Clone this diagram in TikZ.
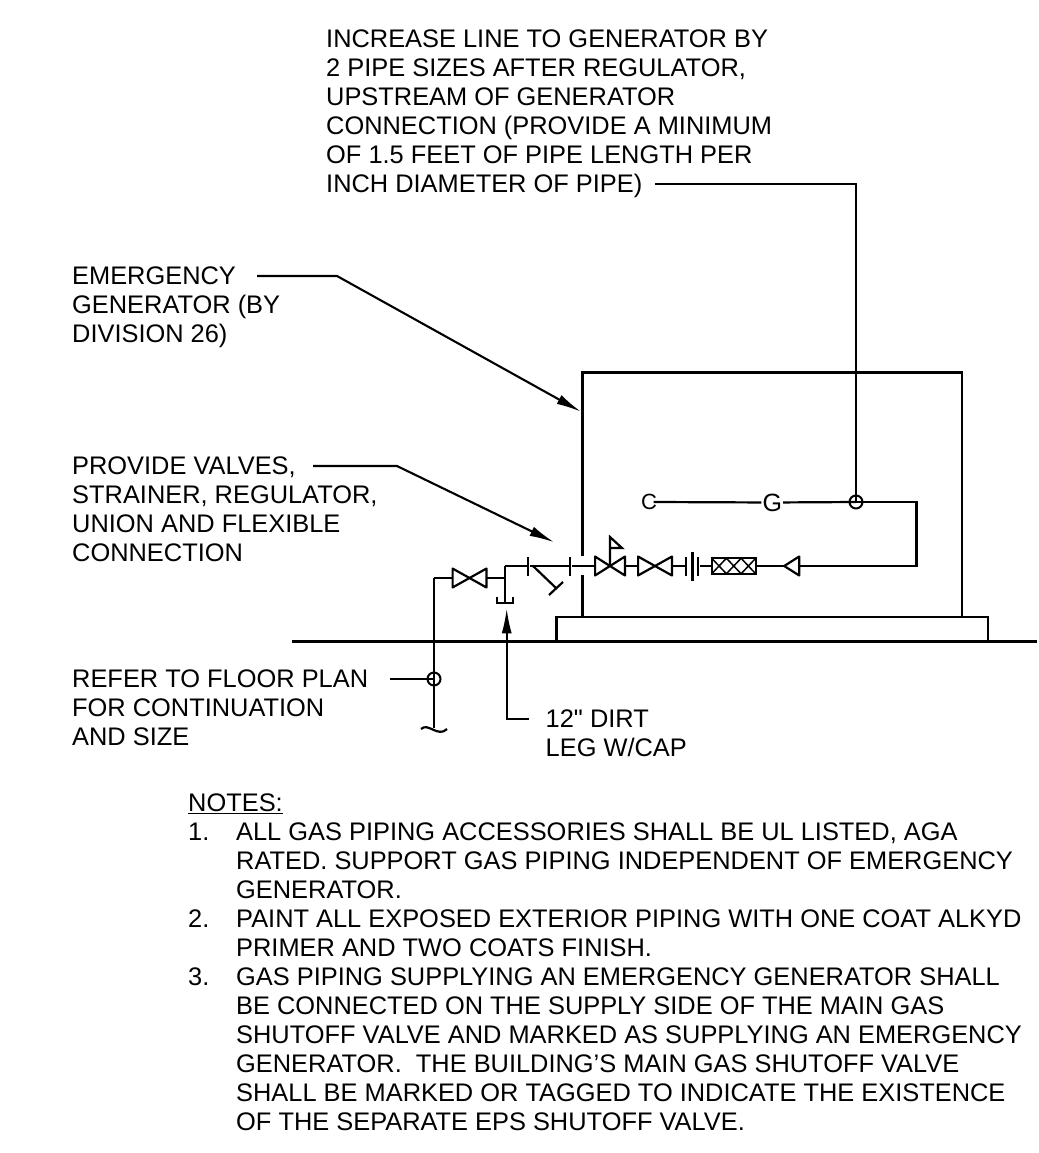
\documentclass[tikz,border=0pt]{standalone}
\usepackage{fontspec}
\setmainfont{Liberation Sans}[Ligatures=TeXOff]
\usetikzlibrary{arrows.meta}

\def\bb{path picture bounding box}
\tikzset{
    pipe/.style = {line width=2.2pt},
    leader/.style = {line width=2.1pt},
    pointer/.style = {leader,-{Latex[length=25pt,width=10pt]}},
    caption/.style = {anchor=north west,align=left,inner sep=0pt,font=\fontsize{25.4}{29}\selectfont},
    letter/.style = {inner sep=1pt,font=\fontsize{25}{25}\selectfont},
    tap/.style = {circle,draw,line width=2pt,minimum size=13pt,inner sep=0pt},
    valve/.style = {minimum width=36pt,minimum height=21pt,inner sep=0pt,outer sep=-1pt,path picture={
        \draw[pipe,line join=round] ([shift={(1pt,1pt)}]\bb.south west) -- ([shift={(1pt,-1pt)}]\bb.north west)
            -- ([shift={(-1pt,1pt)}]\bb.south east) -- ([shift={(-1pt,-1pt)}]\bb.north east)
            -- cycle;}},
    checkvalve/.style = {minimum width=18pt,minimum height=22pt,inner sep=0pt,outer sep=-1pt,path picture={
        \draw[pipe,line join=round] ([xshift=1.5pt]\bb.west) -- ([shift={(-1.5pt,-1.5pt)}]\bb.north east)
            -- ([shift={(-1.5pt,1.5pt)}]\bb.south east) -- cycle;}},
    flange/.style = {minimum width=3pt,minimum height=19pt,inner sep=0pt,outer sep=0pt,path picture={
        \draw[pipe] (\bb.south) -- (\bb.north);}},
    strainer/.style = {draw,line width=2.2pt,minimum width=44pt,minimum height=15.5pt,inner sep=0pt,path picture={
        \draw[line width=1.5pt] (\bb.south west) -- +(14.7pt,15.5pt) (\bb.north west) -- +(14.7pt,-15.5pt)
            +(14.7pt,0pt) -- +(29.4pt,-15.5pt) +(14.7pt,-15.5pt) -- +(29.4pt,0pt)
            +(29.4pt,0pt) -- +(44pt,-15.5pt) +(29.4pt,-15.5pt) -- +(44pt,0pt);}},
}

\begin{document}
\begin{tikzpicture}[x=1pt,y=-1pt,node distance = 40pt]
\useasboundingbox (0,0) rectangle (1038,1153);

% labels
\node[caption] (l_increase) at (326,30) {INCREASE LINE TO GENERATOR BY\\2 PIPE SIZES AFTER REGULATOR,\\UPSTREAM OF GENERATOR\\CONNECTION (PROVIDE A MINIMUM\\OF 1.5 FEET OF PIPE LENGTH PER\\INCH DIAMETER OF PIPE)};
\node[caption] (l_generator) at (72,267) {EMERGENCY\\GENERATOR (BY\\DIVISION 26)};
\node[caption] (l_valves) at (72,457) {PROVIDE VALVES,\\STRAINER, REGULATOR,\\UNION AND FLEXIBLE\\CONNECTION};
\node[caption] (l_floor) at (72,670) {REFER TO FLOOR PLAN\\FOR CONTINUATION\\AND SIZE};
\node[caption] (l_dirt) at (545.5,710) {12" DIRT\\LEG W/CAP};
\node[caption] (l_notes) at (188,794) {\underline{NOTES:}\\
\makebox[48pt][l]{1.}ALL GAS PIPING ACCESSORIES SHALL BE UL LISTED, AGA\\
\hspace*{48pt}RATED. SUPPORT GAS PIPING INDEPENDENT OF EMERGENCY\\
\hspace*{48pt}GENERATOR.\\
\makebox[48pt][l]{2.}PAINT ALL EXPOSED EXTERIOR PIPING WITH ONE COAT ALKYD\\
\hspace*{48pt}PRIMER AND TWO COATS FINISH.\\
\makebox[48pt][l]{3.}GAS PIPING SUPPLYING AN EMERGENCY GENERATOR SHALL\\
\hspace*{48pt}BE CONNECTED ON THE SUPPLY SIDE OF THE MAIN GAS\\
\hspace*{48pt}SHUTOFF VALVE AND MARKED AS SUPPLYING AN EMERGENCY\\
\hspace*{48pt}GENERATOR.\ \ THE BUILDING’S MAIN GAS SHUTOFF VALVE\\
\hspace*{48pt}SHALL BE MARKED OR TAGGED TO INDICATE THE EXISTENCE\\
\hspace*{48pt}OF THE SEPARATE EPS SHUTOFF VALVE.};

% generator and slab
\coordinate (box_gap_a) at (582.5,556);
\coordinate (box_gap_b) at (582.5,575);
\coordinate (box_bl) at (582.5,617);
\coordinate (box_tl) at (582.5,372.5);
\coordinate (box_tr) at (962,372.5);
\coordinate (box_br) at (962,617);
\coordinate (slab_a) at (556.5,641.5);
\coordinate (slab_b) at (556.5,617);
\coordinate (slab_c) at (988,617);
\coordinate (slab_d) at (988,641.5);
\coordinate (floor_a) at (292,641.5);
\coordinate (floor_b) at (1037,641.5);
\draw[pipe] (box_gap_a) -- (box_tl) -- (box_tr) -- (box_br);
\draw[pipe] (box_gap_b) -- (box_bl);
\draw[pipe] (slab_a) -- (slab_b) -- (slab_c) -- (slab_d);
\draw[pipe] (floor_a) -- (floor_b);

% upper pipe
\node[letter,inner sep=0pt,font=\fontsize{22}{22}\selectfont] (g_cap) at (649,502) {C};
\node[letter] (g_mark) at (772.3,502.5) {G};
\node[tap] (g_tap) at (856,502) {};
\coordinate (g_corner) at (916.5,502);
\coordinate (g_drop) at (916.5,566);

% fittings, left to right
\node[valve] (v_main) at (469.5,578) {};
\coordinate (p_riser) at (434,578);
\coordinate (p_tee) at (505,578);
\coordinate (p_top) at (505,566);
\node[flange] (f_a) [right of = p_top, node distance = 23.3pt] {};
\node[flange] (f_b) [right of = f_a, node distance = 41.7pt] {};
\node[valve,minimum width=32pt] (v_reg) [right of = f_b, node distance = 40pt] {};
\node[valve] (v_shut) [right of = v_reg, node distance = 45pt] {};
\node[flange] (f_c) [right of = v_shut, node distance = 31pt] {};
\node[flange,minimum height=29pt] (f_d) [right of = f_c, node distance = 6.5pt] {};
\node[flange] (f_e) [right of = f_d, node distance = 5.5pt] {};
\node[strainer] (s_flex) [right of = f_e, node distance = 35.7pt] {};
\node[checkvalve] (v_check) [right of = s_flex, node distance = 58pt] {};

% pipe runs
\path[pipe] ([xshift=-3.5pt]g_cap.east) edge (g_mark)
    (g_mark) edge (g_tap.center);
\draw[pipe] (g_tap.center) -- (g_corner) -- (g_drop) -- (v_check.east);
\path[pipe] (v_check.west) edge (s_flex.east)
    (s_flex.west) edge (f_e)
    (f_c) edge (v_shut.east)
    (v_shut.west) edge (v_reg.east)
    (v_reg.west) edge (f_b)
    (f_b) edge (f_a)
    (f_a) edge (p_top);
\draw[pipe] (p_top) -- (p_tee) -- (v_main.east);
\draw[pipe] (v_main.west) -- (p_riser);

% regulator flag
\coordinate (r_top) at (610,537);
\coordinate (r_tip) at (622,548);
\coordinate (r_foot) at (610,548);
\draw[pipe] (v_reg.center) -- (r_top) -- (r_tip) -- (r_foot);

% wye strainer
\coordinate (y_a) at (533,566);
\coordinate (y_b) at (556,588);
\coordinate (y_c) at (549,595);
\coordinate (y_d) at (563,582);
\path[pipe] (y_a) edge (y_b)
    (y_c) edge (y_d);

% dirt leg
\coordinate (d_end) at (505,602.7);
\coordinate (d_l) at (497.3,596.7);
\coordinate (d_la) at (497.3,602.7);
\coordinate (d_ra) at (513.3,602.7);
\coordinate (d_r) at (513.3,596.7);
\draw[pipe] (p_tee) -- (d_end);
\draw[pipe] (d_l) -- (d_la) -- (d_ra) -- (d_r);

% riser and break
\node[tap] (r_tap) at (434,679) {};
\coordinate (r_end) at (434,728);
\coordinate (b_l) at (421,729);
\coordinate (b_r) at (447,729);
\draw[pipe] (p_riser) -- (r_end);
\draw[pipe] (b_l) .. controls (428,722) and (438,738) .. (b_r);

% leaders
\coordinate (n_floor) at (390,679);
\coordinate (n_inc_a) at (655,184);
\coordinate (n_inc_b) at (856,184);
\coordinate (n_gen_a) at (257,276);
\coordinate (n_gen_b) at (337,276);
\coordinate (n_gen_c) at (581,411.7);
\coordinate (n_val_a) at (313,466);
\coordinate (n_val_b) at (397,466);
\coordinate (n_val_c) at (554.3,542.3);
\coordinate (n_dirt_a) at (529,719);
\coordinate (n_dirt_b) at (506.7,719);
\coordinate (n_dirt_c) at (506.7,608.3);
\draw[leader] (n_inc_a) -- (n_inc_b) -- (g_tap.center);
\draw[pointer] (n_gen_a) -- (n_gen_b) -- (n_gen_c);
\draw[pointer] (n_val_a) -- (n_val_b) -- (n_val_c);
\draw[pointer] (n_dirt_a) -- (n_dirt_b) -- (n_dirt_c);
\draw[leader] (n_floor) -- (r_tap.center);
\end{tikzpicture}
\end{document}
